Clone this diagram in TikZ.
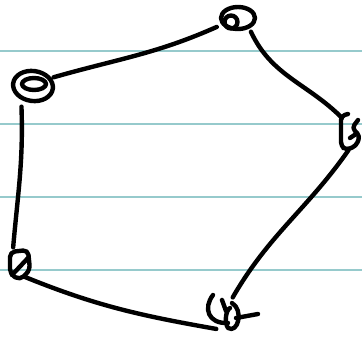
\documentclass[tikz,border=0pt]{standalone}
\definecolor{ruleline}{RGB}{150,202,204}
\tikzset{
  pen/.style={line width=4.4pt, line cap=round, line join=round},
  spot/.style={circle, inner sep=0pt},
}
\begin{document}
\begin{tikzpicture}[x=1pt, y=1pt]
      \useasboundingbox (0,0) rectangle (362,338);
      % ruled paper
      \foreach \h in {287,214,141,68}
        \draw[ruleline, line width=1.3pt] (0,\h) -- (362,\h);
      % vertices
      \node[spot, minimum size=38pt] (t) at (235,317) {};
      \node[spot, minimum size=46pt] (l) at (32,252) {};
      \node[spot, minimum size=34pt] (r) at (350,205) {};
      \node[spot, minimum size=32pt] (bl) at (20,76) {};
      \node[spot, minimum size=36pt] (b) at (228,23) {};
      % scribbles on the vertices
      \draw[pen] (238,320) ellipse (17 and 11);
      \draw[pen] (231,316) circle (6.5);
      \draw[pen, rotate around={-8:(33,252)}] (33,252) ellipse (20 and 15);
      \draw[pen] (34,254) ellipse (12 and 6);
      \draw[pen, rounded corners=4pt] (348,224) -- (341,222) -- (341,192)
        -- (346,188) -- (356,192) -- (360,202) -- (352,210) -- (358,218);
      \draw[pen] (350,200) -- (356,204);
      \draw[pen, rounded corners=5pt] (10,86) -- (28,88) -- (30,68)
        -- (20,58) -- (10,64) -- cycle;
      \draw[pen] (12,63) -- (28,80);
      \draw[pen] (213,43) .. controls (203,30) and (208,14) .. (228,15);
      \draw[pen] (222,38) -- (226,27);
      \draw[pen] (232,35) .. controls (244,28) and (238,4) .. (228,10)
        .. controls (224,16) and (226,28) .. (230,30);
      \draw[pen] (236,20) -- (258,24);
      % edges
      \draw[pen] (l.22) to[out=16, in=204] (t.198);
      \draw[pen] (t.-34) to[out=-65, in=135] (r.118);
      \draw[pen] (r.-95) to[out=-125, in=60] (b.75);
      \draw[pen] (l.243) to[out=-88, in=85] (bl.115);
      \draw[pen] (bl.-70) to[out=-22, in=170] (b.230);
\end{tikzpicture}
\end{document}
